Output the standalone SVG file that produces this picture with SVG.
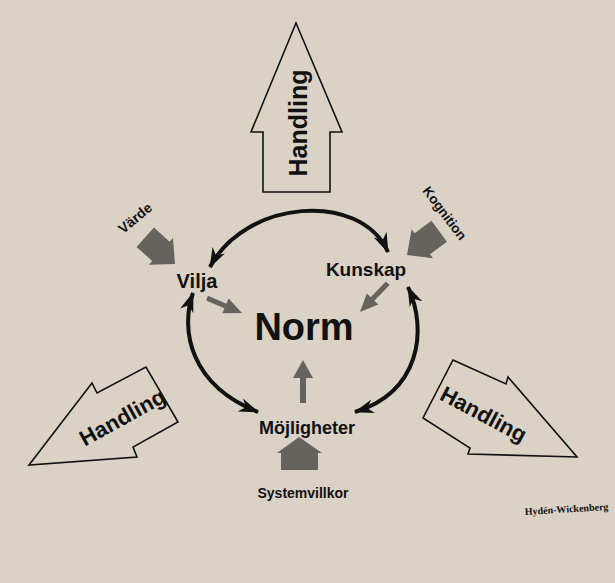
<svg xmlns="http://www.w3.org/2000/svg" width="615" height="583" viewBox="0 0 615 583">
<defs>
<style>
.lbl{font-family:"Liberation Sans",Arial,sans-serif;font-weight:bold;fill:#111;text-anchor:middle}
.out{fill:none;stroke:#111;stroke-width:1.6;stroke-linejoin:miter}
.grey{fill:#66625e}
.arc{fill:none;stroke:#111;stroke-width:4;stroke-linecap:butt}
</style>
<marker id="ah" viewBox="0 0 20 14" refX="19" refY="7" markerWidth="20" markerHeight="14" markerUnits="userSpaceOnUse" orient="auto-start-reverse">
<path d="M0,0 L20,7 L0,14 L6,7 Z" fill="#111"/>
</marker>
</defs>
<rect x="0" y="0" width="615" height="583" fill="#dad2c4"/>

<g id="handling-top">
<polygon class="out" points="296,23 342,132 330,132 330,192 263,192 263,132 251,132"/>
<text class="lbl" font-size="25" transform="translate(307,123) rotate(-90)">Handling</text>
</g>

<g id="handling-left">
<polygon class="out" points="29,465 92,383 97,393 146,367 178,422 133,447 137,457"/>
<text class="lbl" font-size="22" transform="translate(126,424) rotate(-29)">Handling</text>
</g>

<g id="handling-right">
<polygon class="out" points="453,360 506,384 508,377 577,457 468,454 470,448 423,418"/>
<text class="lbl" font-size="22" transform="translate(480,421) rotate(28)">Handling</text>
</g>

<g id="varde">
<text class="lbl" font-size="14" transform="translate(135,218) rotate(-40)" dy="5">Värde</text>
<polygon class="grey" transform="translate(175,264) rotate(42)" points="-40,-13 -19,-13 -19,-18 0,0 -19,18 -19,13 -40,13"/>
</g>

<g id="kognition">
<text class="lbl" font-size="13.5" transform="translate(445,213) rotate(53)" dy="5">Kognition</text>
<polygon class="grey" transform="translate(407,255) rotate(143.7)" points="-40,-13 -19,-13 -19,-18 0,0 -19,18 -19,13 -40,13"/>
</g>

<g id="vilja"><text class="lbl" font-size="20" x="197" y="288">Vilja</text></g>
<g id="kunskap"><text class="lbl" font-size="19" x="366" y="276">Kunskap</text></g>
<g id="mojligheter"><text class="lbl" font-size="18" x="307" y="434">Möjligheter</text></g>
<g id="norm"><text class="lbl" font-size="38" x="304" y="340">Norm</text></g>

<g id="systemvillkor">
<polygon class="grey" points="299,437 322,453 318,453 318,470 281,470 281,453 277,453"/>
<text class="lbl" font-size="14" x="303" y="498">Systemvillkor</text>
</g>

<g id="connectors">
<path class="arc" d="M210,267 C245,200 360,190 388,252" marker-start="url(#ah)" marker-end="url(#ah)"/>
<path class="arc" d="M193,293 C180,330 190,385 258,412" marker-start="url(#ah)" marker-end="url(#ah)"/>
<path class="arc" d="M408,287 C428,330 420,392 355,412" marker-start="url(#ah)" marker-end="url(#ah)"/>
<polygon class="grey" transform="translate(242,313) rotate(23)" points="-38,-2.5 -18,-2.5 -18,-8 0,0 -18,8 -18,2.5 -38,2.5"/>
<polygon class="grey" transform="translate(360,312) rotate(134)" points="-40,-2.5 -18,-2.5 -18,-8 0,0 -18,8 -18,2.5 -40,2.5"/>
<polygon class="grey" transform="translate(303,360) rotate(-90)" points="-43,-3 -18,-3 -18,-10 0,0 -18,10 -18,3 -43,3"/>
</g>

<g id="credit">
<text font-family="'Liberation Serif','Times New Roman',serif" font-weight="bold" font-size="10" fill="#111" transform="translate(525,515) rotate(-3.5)">Hydén-Wickenberg</text>
</g>
</svg>
